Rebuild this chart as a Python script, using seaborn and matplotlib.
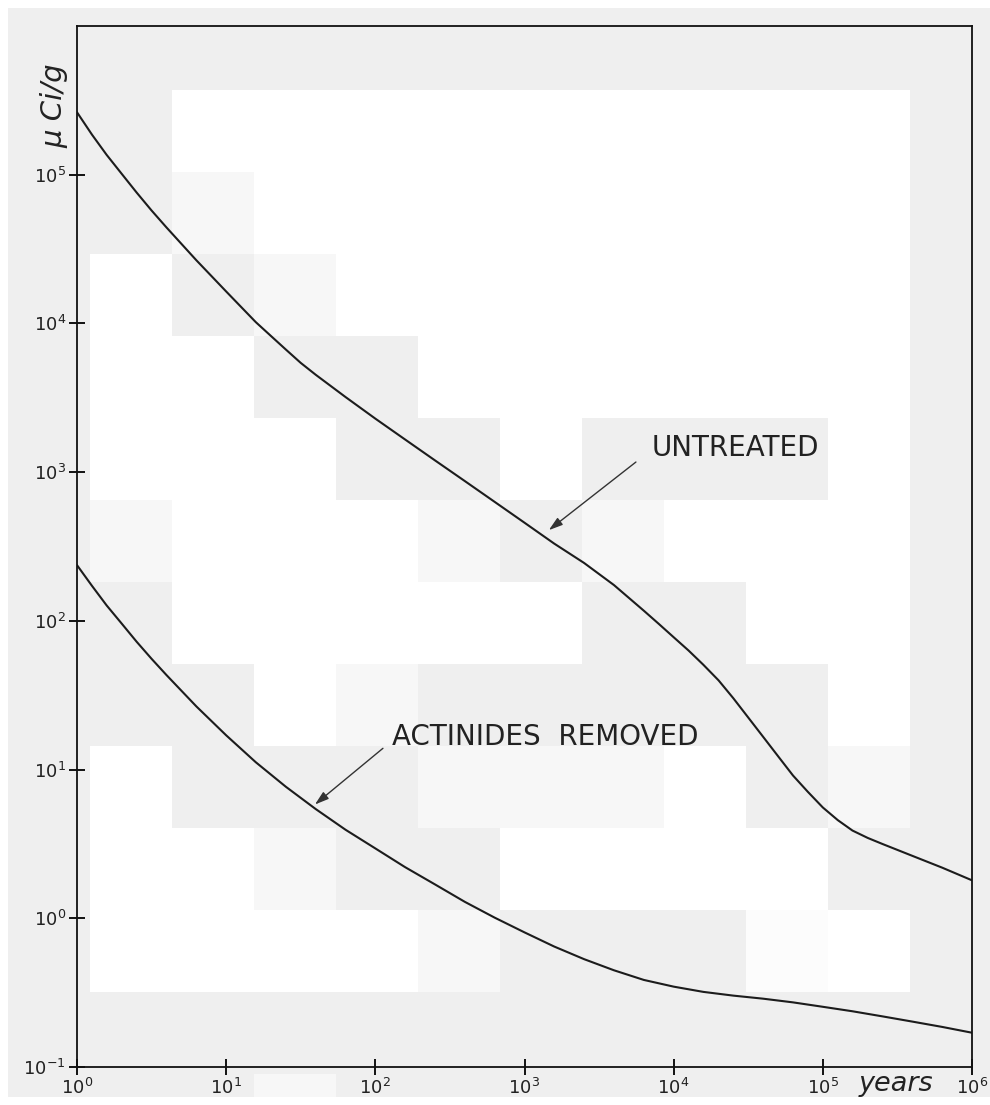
import numpy as np
import matplotlib
matplotlib.use("Agg")
import matplotlib.pyplot as plt
import seaborn as sns

# Activity of high-level waste (µCi per gram) against time after discharge (years)
years_untreated = [1, 1.26, 1.58, 2.0, 2.51, 3.16, 3.98, 5.01, 6.31, 7.94,
                   10, 12.6, 15.8, 20.0, 25.1, 31.6, 39.8, 63.1, 100, 158, 251, 398, 631,
                   1000, 1580, 2510, 3980, 6310, 7940, 10000, 12600, 15800, 20000, 25100,
                   31600, 39800, 50100, 63100, 79400, 100000, 126000, 158000, 200000, 251000,
                   398000, 631000, 1000000]
activity_untreated = [263000, 186000, 136000, 101000, 75900, 57500, 44200, 34300, 26600, 20900,
                      16400, 12900, 10200, 8220, 6680, 5430, 4520, 3200, 2290, 1660, 1200, 871, 631,
                      457, 331, 245, 174, 117, 95.5, 77.6, 63.1, 50.7, 39.8, 30.2,
                      22.4, 16.6, 12.3, 9.12, 7.08, 5.56, 4.57, 3.89, 3.47, 3.16,
                      2.63, 2.19, 1.80]

years_removed = [1, 1.26, 1.58, 2.0, 2.51, 3.16, 3.98, 6.31, 10, 15.8,
                 25.1, 39.8, 63.1, 100, 158, 251, 398, 631, 1000, 1580,
                 2510, 3980, 6310, 10000, 15800, 25100, 39800, 63100, 100000, 158000,
                 251000, 398000, 631000, 1000000]
activity_removed = [237, 172, 127, 95.5, 72.4, 55.6, 43.2, 26.6, 17.0, 11.2,
                    7.67, 5.43, 3.94, 2.95, 2.21, 1.69, 1.29, 1.01, 0.804, 0.646,
                    0.531, 0.447, 0.385, 0.347, 0.320, 0.302, 0.288, 0.272, 0.254, 0.237,
                    0.219, 0.202, 0.186, 0.170]

x_tick_exponents = [0, 1, 2, 3, 4, 5, 6]
y_tick_exponents = [-1, 0, 1, 2, 3, 4, 5]

label_untreated = "UNTREATED"
label_removed = "ACTINIDES  REMOVED"

# Tone of the 82-px paper blocks behind the plot (rows top to bottom)
G, L, V, W = 0.937, 0.965, 0.985, 1.0
paper_blocks = [
    [G, G, G, G, G, G, G, G, G, G, G, G],
    [G, G, W, W, W, W, W, W, W, W, W, G],
    [G, G, L, W, W, W, W, W, W, W, W, G],
    [G, W, G, L, W, W, W, W, W, W, W, G],
    [G, W, W, G, G, W, W, W, W, W, W, G],
    [G, W, W, W, G, G, W, G, G, G, W, G],
    [G, L, W, W, W, L, G, L, W, W, W, G],
    [G, G, W, W, W, W, W, G, G, W, W, G],
    [G, G, G, W, L, G, G, G, G, G, W, G],
    [G, W, G, G, G, L, L, L, W, G, L, G],
    [G, W, W, L, G, G, W, W, W, W, G, G],
    [G, W, W, W, W, L, G, G, G, V, W, G],
    [G, G, G, G, G, G, G, G, G, G, G, G],
    [G, G, G, L, G, G, G, G, G, G, G, G],
]

sns.set_theme(style="ticks")
plt.rcParams["font.family"] = ["DejaVu Sans"]

W_PX, H_PX, DPI = 990, 1105, 100
fig = plt.figure(figsize=(W_PX / DPI, H_PX / DPI), dpi=DPI, facecolor="white")

# paper texture
bg = np.ones((H_PX, W_PX))
cell = 82
for r, row in enumerate(paper_blocks):
    for c, tone in enumerate(row):
        y0, x0 = 8 + r * cell, 8 + c * cell
        y1, x1 = min(y0 + cell, H_PX - 8), min(x0 + cell, W_PX)
        bg[y0:y1, x0:x1] = tone
fig.figimage(bg, cmap="gray", vmin=0, vmax=1, origin="upper", zorder=0)

left, right, top, bottom = 77, 972, 26, 1067
ax = fig.add_axes([left / W_PX, 1 - bottom / H_PX,
                   (right - left) / W_PX, (bottom - top) / H_PX])
ax.set_zorder(1)
ax.patch.set_alpha(0)

ax.set_xscale("log")
ax.set_yscale("log")

line_kw = dict(color="#1c1c1c", linewidth=1.5, ax=ax, legend=False)
sns.lineplot(x=years_untreated, y=activity_untreated, **line_kw)
sns.lineplot(x=years_removed, y=activity_removed, **line_kw)

ax.set_xlim(1, 1e6)
ax.set_ylim(0.1, 1e6)

xt = [10.0 ** e for e in x_tick_exponents]
yt = [10.0 ** e for e in y_tick_exponents]
ax.set_xticks(xt)
ax.set_xticklabels([rf"$10^{{{e}}}$" for e in x_tick_exponents])
ax.set_yticks(yt)
ax.set_yticklabels([rf"$10^{{{e}}}$" for e in y_tick_exponents])
ax.minorticks_off()
ax.tick_params(axis="both", which="major", direction="inout", length=12,
               width=1.4, color="#111111", labelsize=13, labelcolor="#222222", pad=2)

for s in ax.spines.values():
    s.set_linewidth(1.3)
    s.set_color("#111111")
    s.set_visible(True)

ax.set_xlabel("")
ax.set_ylabel("")

# axis captions
fig.text(896 / W_PX, 1 - 1084 / H_PX, "years", style="italic", fontsize=19.5,
         color="#222222", ha="center", va="center")
fig.text(54 / W_PX, 1 - 106 / H_PX, "μ Ci/g", style="italic", fontsize=21,
         color="#222222", ha="center", va="center", rotation=90)

# curve labels with arrows
arrow_kw = dict(arrowstyle="-|>,head_length=0.7,head_width=0.22", color="#333333",
                lw=1.0, shrinkA=0, shrinkB=0)
ax.text(10 ** 3.854, 10 ** 3.162, label_untreated, fontsize=20, color="#222222",
        ha="left", va="center")
ax.annotate("", xy=(10 ** 3.163, 10 ** 2.61), xytext=(10 ** 3.747, 10 ** 3.068),
            arrowprops=arrow_kw)
ax.text(10 ** 2.111, 10 ** 1.217, label_removed, fontsize=20, color="#222222",
        ha="left", va="center")
ax.annotate("", xy=(10 ** 1.595, 10 ** 0.765), xytext=(10 ** 2.051, 10 ** 1.143),
            arrowprops=arrow_kw)

fig.savefig("out.png", dpi=DPI)
